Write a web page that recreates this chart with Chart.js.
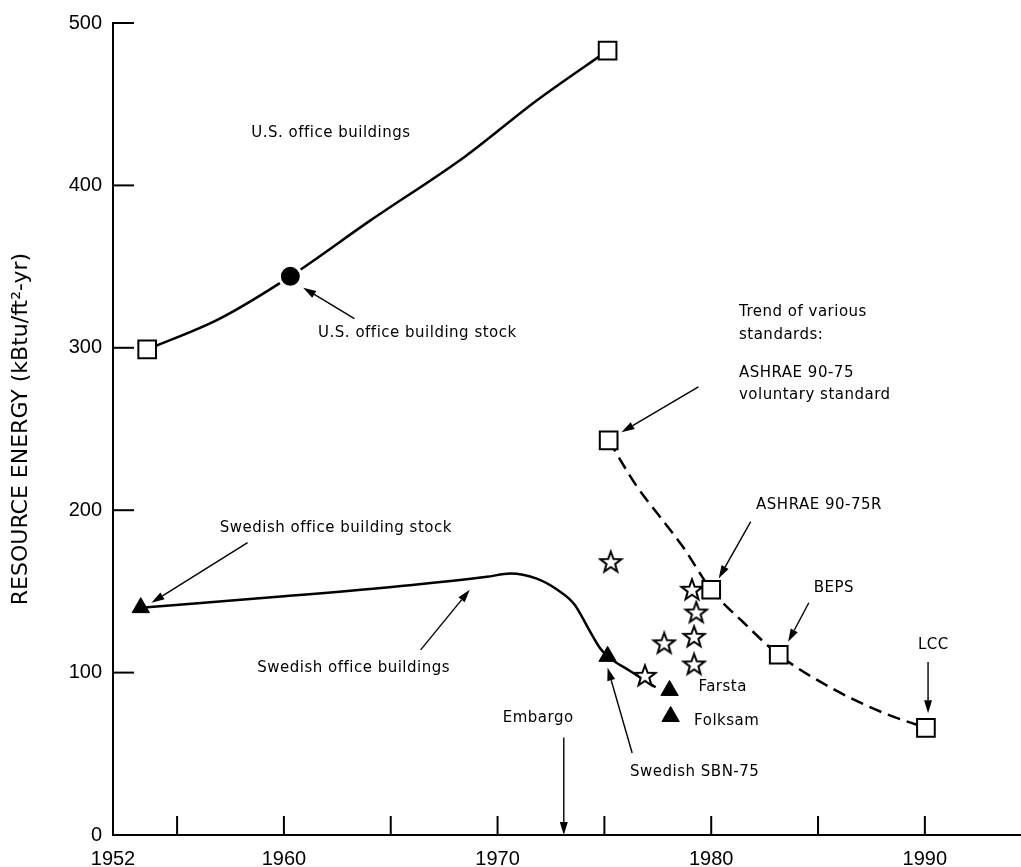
<!DOCTYPE html>
<html lang="en">
  <head>
    <meta charset="UTF-8" />
    <title>Resource energy</title>
    <script src="https://cdn.jsdelivr.net/npm/chart.js"></script>
    <style>
      body { margin: 0; background: #fff; overflow: hidden; }
      canvas { display: block; }
    </style>
  </head>
  <body>
    <canvas id="myChart" width="1021" height="867"></canvas>
    <script>
      // years and kBtu/ft2-yr
      const usLineYears = [1953.6, 1957, 1960.3, 1964, 1968.5, 1971.8, 1975.15];
      const usLineValues = [299, 318, 344, 378, 418, 452, 483];
      const usSquareYears = [1953.6, 1975.15];
      const usSquareValues = [299, 483];
      const usStockYears = [1960.3];
      const usStockValues = [344];

      const swLineYears = [1953.3, 1960, 1966, 1969.5, 1970.6, 1971.8, 1972.8, 1973.6, 1974.3, 1974.8, 1975.15, 1976.2, 1977.4];
      const swLineValues = [140, 147, 154, 159, 161, 158, 151, 142, 126, 115, 110, 101, 91];
      const swTriYears = [1953.3, 1975.15, 1978.05, 1978.1];
      const swTriValues = [140, 110, 89, 73];

      const stdYears = [1975.2, 1976.5, 1977.6, 1978.7, 1980, 1981.5, 1983.16, 1985.7, 1988.1, 1990.05];
      const stdValues = [243, 215, 196, 177, 151, 131, 111, 90, 75, 66];
      const stdSquareYears = [1975.2, 1980, 1983.16, 1990.05];
      const stdSquareValues = [243, 151, 111, 66];

      const starYears = [1975.3, 1979.1, 1979.3, 1979.2, 1977.8, 1979.2, 1976.9];
      const starValues = [168, 151, 137, 122, 118, 105, 98];

      const xTickYears = [1952, 1955, 1960, 1965, 1970, 1975, 1980, 1985, 1990];
      const xLabelYears = [1952, 1960, 1970, 1980, 1990];
      const yTickValues = [100, 200, 300, 400, 500];

      const notes = [
        { text: "U.S. office buildings", x: 1962.2, y: 432, align: "center" },
        { text: "U.S. office building stock", x: 1961.6, y: 309 },
        { text: "Trend of various", x: 1981.3, y: 322 },
        { text: "standards:", x: 1981.3, y: 308 },
        { text: "ASHRAE 90-75", x: 1981.3, y: 284.5 },
        { text: "voluntary standard", x: 1981.3, y: 271 },
        { text: "ASHRAE 90-75R", x: 1982.1, y: 203 },
        { text: "BEPS", x: 1984.8, y: 152 },
        { text: "LCC", x: 1990.4, y: 117, align: "center" },
        { text: "Swedish office building stock", x: 1957, y: 189 },
        { text: "Swedish office buildings", x: 1958.75, y: 103 },
        { text: "Farsta", x: 1979.4, y: 91 },
        { text: "Folksam", x: 1979.2, y: 70 },
        { text: "Swedish SBN-75", x: 1976.2, y: 39 },
        { text: "Embargo", x: 1971.9, y: 72, align: "center" },
      ];
      const arrows = [
        [1963.3, 318, 1960.9, 337],
        [1979.4, 276, 1975.8, 248],
        [1981.85, 193, 1980.35, 158],
        [1984.57, 143, 1983.6, 119],
        [1990.15, 106.5, 1990.15, 75],
        [1958.3, 180, 1953.8, 143],
        [1966.4, 114, 1968.7, 151],
        [1976.3, 50.5, 1975.15, 103],
        [1973.1, 60, 1973.1, 0],
      ];

      const pts = (xs, ys) => xs.map((x, i) => ({ x: x, y: ys[i] }));

      // open five-pointed star marker
      const star = document.createElement("canvas");
      star.width = 26;
      star.height = 26;
      const sc = star.getContext("2d");
      sc.beginPath();
      for (let i = 0; i < 10; i++) {
        const r = i % 2 ? 4.5 : 11;
        const a = -Math.PI / 2 + (i * Math.PI) / 5;
        sc.lineTo(13 + r * Math.cos(a), 13.5 + r * Math.sin(a));
      }
      sc.closePath();
      sc.fillStyle = "#fff";
      sc.fill();
      sc.lineWidth = 2;
      sc.strokeStyle = "#000";
      sc.stroke();

      const line = (data, dash) => ({
        data: data,
        showLine: true,
        borderColor: "#000",
        borderWidth: 2.5,
        borderDash: dash || [],
        pointRadius: 0,
        cubicInterpolationMode: "monotone",
        order: 2,
      });
      const marks = (data, style, r, fill, border, bw) => ({
        data: data,
        showLine: false,
        pointStyle: style,
        pointRadius: r,
        backgroundColor: fill,
        borderColor: border,
        borderWidth: bw,
        order: 0,
      });

      const extras = {
        id: "extras",
        afterDatasetsDraw(chart) {
          const ctx = chart.ctx;
          const xs = chart.scales.x;
          const ys = chart.scales.y;
          const a = chart.chartArea;
          ctx.save();
          ctx.strokeStyle = "#000";
          ctx.fillStyle = "#000";
          ctx.lineWidth = 2;
          // inward tick marks
          xTickYears.slice(1).forEach((v) => {
            const px = xs.getPixelForValue(v);
            ctx.beginPath();
            ctx.moveTo(px, a.bottom);
            ctx.lineTo(px, a.bottom - 19);
            ctx.stroke();
          });
          yTickValues.forEach((v) => {
            const py = ys.getPixelForValue(v);
            ctx.beginPath();
            ctx.moveTo(a.left, py);
            ctx.lineTo(a.left + 21, py);
            ctx.stroke();
          });
          // arrows
          ctx.lineWidth = 1.4;
          arrows.forEach((d) => {
            const x1 = xs.getPixelForValue(d[0]);
            const y1 = ys.getPixelForValue(d[1]);
            const x2 = xs.getPixelForValue(d[2]);
            const y2 = ys.getPixelForValue(d[3]);
            const ang = Math.atan2(y2 - y1, x2 - x1);
            const hl = 13;
            const hw = 4;
            ctx.beginPath();
            ctx.moveTo(x1, y1);
            ctx.lineTo(x2 - Math.cos(ang) * hl, y2 - Math.sin(ang) * hl);
            ctx.stroke();
            ctx.beginPath();
            ctx.moveTo(x2, y2);
            ctx.lineTo(x2 - Math.cos(ang) * hl - Math.sin(ang) * hw, y2 - Math.sin(ang) * hl + Math.cos(ang) * hw);
            ctx.lineTo(x2 - Math.cos(ang) * hl + Math.sin(ang) * hw, y2 - Math.sin(ang) * hl - Math.cos(ang) * hw);
            ctx.closePath();
            ctx.fill();
          });
          // text notes
          ctx.font = "15px 'DejaVu Sans'";
          ctx.letterSpacing = "0.5px";
          ctx.textBaseline = "middle";
          notes.forEach((n) => {
            ctx.textAlign = n.align || "left";
            ctx.fillText(n.text, xs.getPixelForValue(n.x), ys.getPixelForValue(n.y));
          });
          ctx.restore();
        },
      };

      new Chart(document.getElementById("myChart"), {
        type: "scatter",
        data: {
          datasets: [
            line(pts(usLineYears, usLineValues)),
            line(pts(swLineYears, swLineValues)),
            line(pts(stdYears, stdValues), [13, 7]),
            marks(pts(usSquareYears, usSquareValues), "rect", 12.5, "#fff", "#000", 2),
            marks(pts(stdSquareYears, stdSquareValues), "rect", 12.5, "#fff", "#000", 2),
            marks(pts(usStockYears, usStockValues), "circle", 11, "#000", "#fff", 3),
            marks(pts(swTriYears, swTriValues), "triangle", 10, "#000", "#000", 1),
            marks(pts(starYears, starValues), star, 10, "#fff", "#000", 1),
          ],
        },
        options: {
          responsive: false,
          animation: false,
          layout: { autoPadding: false, padding: { top: 23, right: 0, left: 0, bottom: 0 } },
          plugins: { legend: { display: false }, tooltip: { enabled: false } },
          scales: {
            x: {
              type: "linear",
              min: 1952,
              max: 1994.5,
              afterBuildTicks: (s) => {
                s.ticks = xTickYears.map((v) => ({ value: v }));
              },
              afterFit: (s) => {
                s.height = 32;
                s.paddingRight = 0;
                s.paddingLeft = 0;
              },
              grid: { display: false, drawTicks: false },
              border: { display: true, color: "#000", width: 2 },
              ticks: {
                autoSkip: false,
                maxRotation: 0,
                padding: 12,
                color: "#000",
                font: { family: "'Liberation Sans'", size: 20 },
                callback: (v) => (xLabelYears.includes(v) ? String(v) : ""),
              },
            },
            y: {
              min: 0,
              max: 500,
              afterBuildTicks: (s) => {
                s.ticks = [0].concat(yTickValues).map((v) => ({ value: v }));
              },
              afterFit: (s) => {
                s.width = 113;
              },
              grid: { display: false, drawTicks: false },
              border: { display: true, color: "#000", width: 2 },
              ticks: {
                padding: 11,
                color: "#000",
                font: { family: "'Liberation Sans'", size: 20 },
              },
              title: {
                display: true,
                text: "RESOURCE ENERGY (kBtu/ft\u00b2-yr)",
                color: "#000",
                font: { family: "'DejaVu Sans'", size: 22 },
                padding: { top: 8, bottom: 0 },
              },
            },
          },
        },
        plugins: [extras],
      });
    </script>
  </body>
</html>
